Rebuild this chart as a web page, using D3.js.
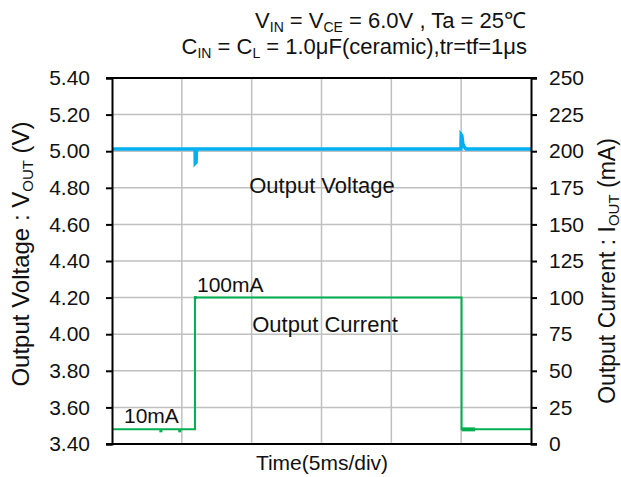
<!DOCTYPE html>
<html><head><meta charset="utf-8">
<script src="https://cdn.jsdelivr.net/npm/d3@7"></script>
<style>
body{margin:0;background:#fff;}
text{font-family:"Liberation Sans",Arial,sans-serif;fill:#111;}
</style></head>
<body><svg id="c" width="621" height="477"></svg>
<script>
// time in ms (6 divisions of 5 ms)
const timeDomain = [0, 30];
const voltTicks = [3.40,3.60,3.80,4.00,4.20,4.40,4.60,4.80,5.00,5.20,5.40];
const currTicks = [0,25,50,75,100,125,150,175,200,225,250];
const timeGrid = [5,10,15,20,25];
const voltTime  = [0, 5.95, 5.96, 6.02, 6.05, 6.1, 24.98, 25.0, 25.05, 25.12, 25.2, 25.35, 30];
const voltValue = [5.012, 5.012, 4.935, 4.94, 5.0, 5.012, 5.012, 5.09, 5.085, 5.04, 5.025, 5.012, 5.012];
const currTime  = [0, 5.94, 5.94, 25.03, 25.03, 30];
const currValue = [10, 10, 100, 100, 10, 10];
const markTime  = [3.5, 4.85, 5.97];
const markValue = [9, 9, 100];
const blobTime  = [25.05, 26.0];
const blobValue = [10, 10];

const svg = d3.select("#c");
const L=112, R=531, T=78, B=444;
const x = d3.scaleLinear().domain(timeDomain).range([L,R]);
const yV = d3.scaleLinear().domain([3.4,5.4]).range([B,T]);
const yI = d3.scaleLinear().domain([0,250]).range([B,T]);

// grid
svg.append("g").selectAll("line").data(voltTicks.slice(1,-1)).join("line")
  .attr("x1",L).attr("x2",R).attr("y1",d=>yV(d)).attr("y2",d=>yV(d))
  .attr("stroke","#c0c0c0").attr("stroke-width",1.5);
svg.append("g").selectAll("line").data(timeGrid).join("line")
  .attr("x1",d=>x(d)).attr("x2",d=>x(d)).attr("y1",T).attr("y2",B)
  .attr("stroke","#c0c0c0").attr("stroke-width",1.5);

// annotations
svg.append("text").attr("x",322).attr("y",193).attr("text-anchor","middle").attr("font-size",22).text("Output Voltage");
svg.append("text").attr("x",325).attr("y",332).attr("text-anchor","middle").attr("font-size",22).text("Output Current");
svg.append("text").attr("x",197).attr("y",292).attr("font-size",21).text("100mA");
svg.append("text").attr("x",124).attr("y",423).attr("font-size",21).text("10mA");

// current line
const lineI = d3.line().x(d=>x(d[0])).y(d=>yI(d[1]));
svg.append("path").datum(currTime.map((t,i)=>[t,currValue[i]]))
  .attr("d",lineI).attr("fill","none").attr("stroke","#00b050").attr("stroke-width",2);
svg.append("g").selectAll("rect").data(markTime.map((t,i)=>[t,markValue[i]])).join("rect")
  .attr("x",d=>x(d[0])-1.5).attr("y",d=>yI(d[1])-1.5).attr("width",3).attr("height",3).attr("fill","#00b050");
svg.append("path").datum(blobTime.map((t,i)=>[t,blobValue[i]]))
  .attr("d",lineI).attr("fill","none").attr("stroke","#00b050").attr("stroke-width",4);

// voltage line
const lineV = d3.line().x(d=>x(d[0])).y(d=>yV(d[1]));
svg.append("path").datum(voltTime.map((t,i)=>[t,voltValue[i]]))
  .attr("d",lineV).attr("fill","none").attr("stroke","#00b0f0").attr("stroke-width",3.5);

// axes
const axL = svg.append("g").attr("transform",`translate(${L},0)`)
  .call(d3.axisLeft(yV).tickValues(voltTicks).tickFormat(d3.format(".2f")).tickSizeOuter(0).tickSize(6).tickPadding(16));
const axR = svg.append("g").attr("transform",`translate(${R},0)`)
  .call(d3.axisRight(yI).tickValues(currTicks).tickSizeOuter(0).tickSize(6).tickPadding(12));
[axL,axR].forEach(a=>{
  a.selectAll("path,line").attr("stroke","#000").attr("stroke-width",2);
  a.selectAll("text").attr("font-size",21).attr("font-family","Liberation Sans, Arial").attr("fill","#111");
});
svg.append("line").attr("x1",L-6).attr("x2",R+6).attr("y1",T).attr("y2",T).attr("stroke","#000").attr("stroke-width",2);
svg.append("line").attr("x1",L-6).attr("x2",R+6).attr("y1",B).attr("y2",B).attr("stroke","#000").attr("stroke-width",2);

// axis titles
svg.append("text").attr("x",322).attr("y",470).attr("text-anchor","middle").attr("font-size",21).text("Time(5ms/div)");
const lt = svg.append("text").attr("transform","translate(29,254) rotate(-90)").attr("text-anchor","middle").attr("font-size",24);
lt.append("tspan").text("Output Voltage : V");
lt.append("tspan").attr("font-size",15).attr("dy",4).text("OUT");
lt.append("tspan").attr("dy",-4).text(" (V)");
const rt = svg.append("text").attr("transform","translate(615,271) rotate(-90)").attr("text-anchor","middle").attr("font-size",23);
rt.append("tspan").text("Output Current : I");
rt.append("tspan").attr("font-size",15).attr("dy",4).text("OUT");
rt.append("tspan").attr("dy",-4).text("  (mA)");

// header
const h1 = svg.append("text").attr("x",526).attr("y",28).attr("text-anchor","end").attr("font-size",22);
h1.append("tspan").text("V");
h1.append("tspan").attr("font-size",14).attr("dy",4).text("IN");
h1.append("tspan").attr("dy",-4).text(" = V");
h1.append("tspan").attr("font-size",14).attr("dy",4).text("CE");
h1.append("tspan").attr("dy",-4).text(" = 6.0V , Ta  = 25℃");
const h2 = svg.append("text").attr("x",527).attr("y",54).attr("text-anchor","end").attr("font-size",22);
h2.append("tspan").text("C");
h2.append("tspan").attr("font-size",14).attr("dy",4).text("IN");
h2.append("tspan").attr("dy",-4).text(" = C");
h2.append("tspan").attr("font-size",14).attr("dy",4).text("L");
h2.append("tspan").attr("dy",-4).text(" = 1.0μF(ceramic),tr=tf=1μs");
</script></body></html>
